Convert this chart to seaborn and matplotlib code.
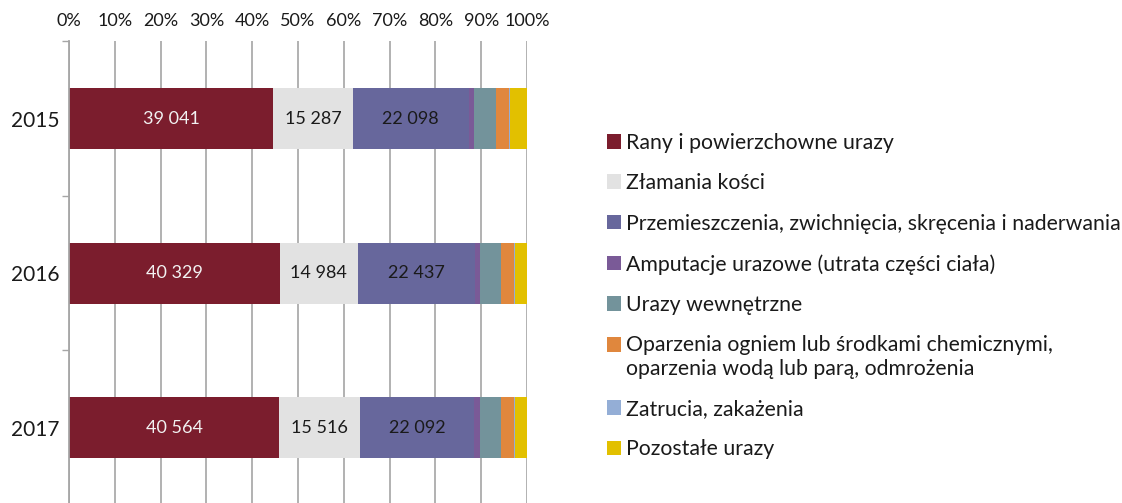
import pandas as pd
import matplotlib
matplotlib.use('Agg')
import matplotlib.pyplot as plt
from matplotlib.patches import Patch, Rectangle
from matplotlib.legend_handler import HandlerPatch
from matplotlib.ticker import FixedLocator
import seaborn as sns

# Dane: liczba poszkodowanych wg rodzaju urazu
years = ['2015', '2016', '2017']
rany = [39041, 40329, 40564]
zlamania = [15287, 14984, 15516]
przemieszczenia = [22098, 22437, 22092]
amputacje = [1130, 970, 1150]
wewnetrzne = [4170, 4040, 4040]
oparzenia = [2470, 2460, 2480]
zatrucia = [200, 180, 250]
pozostale = [3220, 2290, 2300]

labels = ['Rany i powierzchowne urazy',
          'Złamania kości',
          'Przemieszczenia, zwichnięcia, skręcenia i naderwania',
          'Amputacje urazowe (utrata części ciała)',
          'Urazy wewnętrzne',
          'Oparzenia ogniem lub środkami chemicznymi,\noparzenia wodą lub parą, odmrożenia',
          'Zatrucia, zakażenia',
          'Pozostałe urazy']
colors = ['#7B1D2D', '#E2E2E2', '#67679C', '#7A5A97', '#73939B', '#E0873D', '#94AED6', '#E2C000']

sns.set_style('white')
plt.rcParams['font.family'] = ['Lato', 'DejaVu Sans']

df = pd.DataFrame({'rok': years, 'rany': rany, 'zlamania': zlamania,
                   'przemieszczenia': przemieszczenia, 'amputacje': amputacje,
                   'wewnetrzne': wewnetrzne, 'oparzenia': oparzenia,
                   'zatrucia': zatrucia, 'pozostale': pozostale})
cols = df.columns[1:]
share = df[cols].div(df[cols].sum(axis=1), axis=0) * 100
cum = share.cumsum(axis=1)
cum['rok'] = df['rok']

fig = plt.figure(figsize=(11.22, 5.03), dpi=100)
ax = fig.add_axes([0.0615, -0.0036, 0.4082, 0.9215])

# skumulowane słupki rysowane od końca
for col, c in reversed(list(zip(cols, colors))):
    sns.barplot(data=cum, x=col, y='rok', orient='h', color=c, width=0.395,
                saturation=1, ax=ax, linewidth=0)

# etykiety wartości dla trzech pierwszych kategorii
for i in range(len(years)):
    start = 0
    for j, col in enumerate(cols[:3]):
        mid = start + share[col][i] / 2
        ax.text(mid, i, f"{df[col][i]:,}".replace(',', ' '), ha='center', va='center',
                fontsize=13, color='#F2F2F2' if j == 0 else '#1A1A1A')
        start += share[col][i]

ax.set_xlim(0, 100)
ax.set_ylim(2.5, -0.5)
ax.xaxis.tick_top()
ax.set_xticks(range(0, 101, 10))
ax.set_xticklabels([f'{v}%' for v in range(0, 101, 10)], fontsize=13, color='#1A1A1A')
ax.tick_params(axis='x', length=0, pad=9)
ax.tick_params(axis='y', which='major', length=0, pad=7, labelsize=15, labelcolor='#1A1A1A')
ax.yaxis.set_minor_locator(FixedLocator([-0.5, 0.5, 1.5, 2.5]))
ax.tick_params(axis='y', which='minor', left=True, length=5, width=1, color='#A6A6A6')
ax.grid(axis='x', color='#ABABAB', linewidth=1.3)
ax.set_axisbelow(True)
ax.set_xlabel('')
ax.set_ylabel('')
for s in ['top', 'right', 'bottom']:
    ax.spines[s].set_visible(False)
ax.spines['left'].set_color('#A6A6A6')
ax.spines['left'].set_linewidth(1.3)


def first_line_patch(legend, orig_handle, xdescent, ydescent, width, height, fontsize):
    # kwadrat wyrównany do pierwszej linii opisu dwuwierszowego
    return Rectangle((-xdescent, -ydescent + 0.6 * fontsize), width, height)


handles = [Patch(facecolor=c, edgecolor='none') for c in colors]
fig.legend(handles, labels, loc='upper left', bbox_to_anchor=(0.541, 0.736),
           frameon=False, fontsize=15.3, handlelength=0.68, handleheight=0.68,
           handletextpad=0.2, labelspacing=0.96, borderpad=0, borderaxespad=0,
           labelcolor='#1A1A1A',
           handler_map={handles[5]: HandlerPatch(patch_func=first_line_patch)})

fig.savefig('out.png', dpi=100)
